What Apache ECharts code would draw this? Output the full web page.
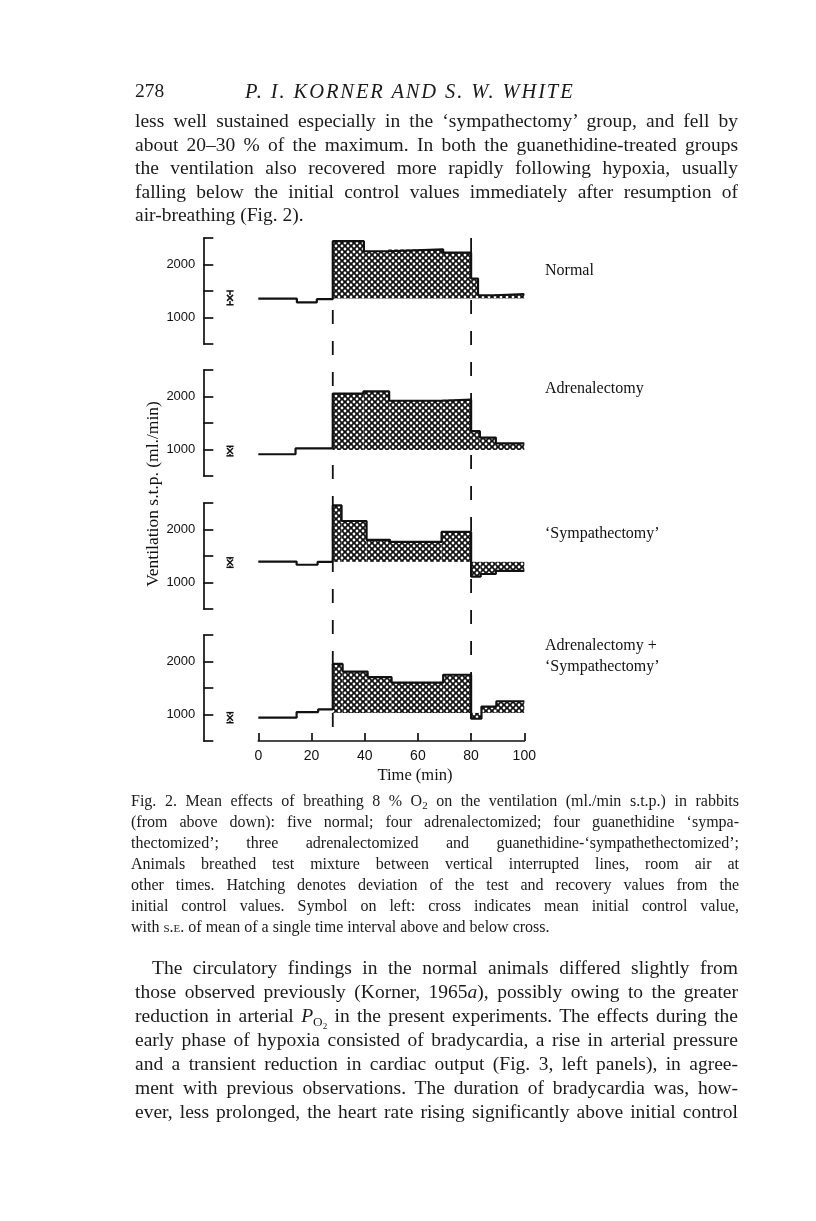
<!DOCTYPE html>
<html><head><meta charset="utf-8">
<script src="https://cdn.jsdelivr.net/npm/echarts@6/dist/echarts.min.js"></script>
<style>
html,body{margin:0;padding:0;background:#fff;}
#page{position:relative;width:816px;height:1221px;overflow:hidden;background:#fff;}
#chart{position:absolute;left:0;top:0;width:816px;height:1221px;}
.blk{position:absolute;font-family:"Liberation Serif","Times New Roman",serif;color:#1a1a1a;}
.blk div{white-space:normal;overflow:visible;}
.j{text-align:justify;text-align-last:justify;}
sub{font-size:0.68em;vertical-align:-0.3em;line-height:0;}
.sc{font-variant:small-caps;}
</style></head>
<body><div id="page">
<div id="chart"></div>

<div class="blk" style="left:135px;top:79px;width:603px;font-size:19.5px;line-height:24px;">
  <div style="position:relative;height:24px;"><span style="position:absolute;left:0;">278</span><span style="position:absolute;left:110px;font-style:italic;font-size:20.5px;letter-spacing:1.9px;">P. I. KORNER AND S. W. WHITE</span></div>
</div>

<div class="blk" style="left:135px;top:109px;width:603px;font-size:19.5px;line-height:23.5px;">
  <div class="j">less well sustained especially in the ‘sympathectomy’ group, and fell by</div>
  <div class="j">about 20–30 % of the maximum. In both the guanethidine-treated groups</div>
  <div class="j">the ventilation also recovered more rapidly following hypoxia, usually</div>
  <div class="j">falling below the initial control values immediately after resumption of</div>
  <div>air-breathing (Fig. 2).</div>
</div>

<div class="blk" style="left:131px;top:790px;width:608px;font-size:16px;line-height:21px;">
  <div class="j">Fig. 2. Mean effects of breathing 8 % O<sub>2</sub> on the ventilation (ml./min s.t.p.) in rabbits</div>
  <div class="j">(from above down): five normal; four adrenalectomized; four guanethidine ‘sympa-</div>
  <div class="j">thectomized’; three adrenalectomized and guanethidine-‘sympathethectomized’;</div>
  <div class="j">Animals breathed test mixture between vertical interrupted lines, room air at</div>
  <div class="j">other times. Hatching denotes deviation of the test and recovery values from the</div>
  <div class="j">initial control values. Symbol on left: cross indicates mean initial control value,</div>
  <div>with <span class="sc">s.e.</span> of mean of a single time interval above and below cross.</div>
</div>

<div class="blk" style="left:135px;top:956px;width:603px;font-size:19.5px;line-height:24px;">
  <div class="j" style="text-indent:17px;">The circulatory findings in the normal animals differed slightly from</div>
  <div class="j">those observed previously (Korner, 1965<i>a</i>), possibly owing to the greater</div>
  <div class="j">reduction in arterial <i>P</i><sub>O<sub>2</sub></sub> in the present experiments. The effects during the</div>
  <div class="j">early phase of hypoxia consisted of bradycardia, a rise in arterial pressure</div>
  <div class="j">and a transient reduction in cardiac output (Fig. 3, left panels), in agree-</div>
  <div class="j">ment with previous observations. The duration of bradycardia was, how-</div>
  <div class="j">ever, less prolonged, the heart rate rising significantly above initial control</div>
</div>
</div>

<script>
// ---- data ----
const timeTicks = [0, 20, 40, 60, 80, 100];
const hypoxiaPeriod = [28, 80];           // test mixture between these times (min)

const panelNames = ['Normal', 'Adrenalectomy', '‘Sympathectomy’', 'Adrenalectomy +\n‘Sympathectomy’'];

// step boundaries (min) and the value held within each interval (ml./min)
const normalT = [0, 14.5, 22, 28, 39.7, 48.8, 69.5, 80, 82.6, 89, 100];
const normalV = [1355, 1285, 1345, 2440, 2250, 2285, 2225, 1735, 1420, 1440];

const adrenalT = [0, 14, 28, 39.5, 49.2, 69, 80, 83.3, 89.3, 100];
const adrenalV = [910, 1020, 2055, 2095, 1920, 1940, 1345, 1225, 1115];

const sympT = [0, 14.4, 22.3, 28, 31.3, 40.7, 49.5, 68.9, 80, 83.6, 89.3, 100];
const sympV = [1395, 1335, 1390, 2455, 2160, 1805, 1765, 1955, 1110, 1160, 1220];

const adrSympT = [0, 14.4, 22.5, 28, 31.7, 41.1, 50.1, 69.5, 80, 83.9, 89.5, 100];
const adrSympV = [940, 1045, 1095, 1955, 1810, 1705, 1600, 1750, 920, 1150, 1250];

// initial control level used as the hatching base
const controlBase = [1360, 990, 1390, 1030];
// cross symbol: mean initial control value and s.e.
const crossMean = [1370, 970, 1376, 940];
const crossSE = [130, 90, 90, 95];

const yTicks = [500, 1000, 1500, 2000, 2500];
const yLabelled = [1000, 2000];

// ---- layout / style ----
const panelsT = [normalT, adrenalT, sympT, adrSympT];
const panelsV = [normalV, adrenalV, sympV, adrSympV];
const gridTops = [238, 370, 503, 635];
const gridLeft = 258.3, gridWidth = 266, gridHeight = 106;
const INK = '#111';
const SERIF = '"Liberation Serif","Times New Roman",serif';
const SANS = '"Liberation Sans",Arial,sans-serif';

function makeHatch() {
  const s = 6, c = document.createElement('canvas');
  c.width = s; c.height = s;
  const g = c.getContext('2d');
  g.fillStyle = '#111'; g.fillRect(0, 0, s, s);
  g.fillStyle = '#fff';
  const r = 1.4;
  [[0,0],[s,0],[0,s],[s,s],[s/2,s/2]].forEach(p => { g.beginPath(); g.arc(p[0], p[1], r, 0, Math.PI*2); g.fill(); });
  return {image: c, repeat: 'repeat'};
}
const hatch = makeHatch();

const grids = [], xAxes = [], yAxes = [], series = [];
for (let i = 0; i < 4; i++) {
  grids.push({left: gridLeft, top: gridTops[i], width: gridWidth, height: gridHeight});
  const isBottom = i === 3;
  xAxes.push({
    gridIndex: i, type: 'value', min: timeTicks[0], max: timeTicks[timeTicks.length-1], interval: 20,
    show: isBottom,
    axisLine: {show: true, onZero: false, lineStyle: {color: INK, width: 1.7}},
    axisTick: {show: true, inside: true, length: 8, lineStyle: {color: INK, width: 1.7}},
    axisLabel: {show: true, color: INK, fontFamily: SANS, fontSize: 14, margin: 8},
    splitLine: {show: false}
  });
  yAxes.push({
    gridIndex: i, type: 'value', min: yTicks[0], max: yTicks[yTicks.length-1], interval: 500,
    position: 'left', offset: 55,
    axisLine: {show: true, onZero: false, lineStyle: {color: INK, width: 1.7}},
    axisTick: {show: true, inside: true, length: 10, lineStyle: {color: INK, width: 1.7}},
    axisLabel: {color: INK, fontFamily: SANS, fontSize: 13, margin: 8,
      formatter: v => yLabelled.indexOf(v) >= 0 ? String(v) : ''},
    splitLine: {show: false}
  });

  const T = panelsT[i], V = panelsV[i];
  // step outline
  const pts = [];
  for (let k = 0; k < V.length; k++) { pts.push([T[k], V[k]]); pts.push([T[k+1], V[k]]); }
  series.push({
    type: 'line', xAxisIndex: i, yAxisIndex: i, data: pts, symbol: 'none', z: 5,
    lineStyle: {color: INK, width: 2.2}, silent: true, animation: false
  });
  // hatched deviation from control
  const segs = [];
  for (let k = 0; k < V.length; k++) if (T[k] >= hypoxiaPeriod[0]) segs.push([T[k], T[k+1], V[k]]);
  const base = controlBase[i];
  series.push({
    type: 'custom', xAxisIndex: i, yAxisIndex: i, data: segs, z: 3, animation: false, silent: true,
    renderItem: (params, api) => {
      const p0 = api.coord([api.value(0), base]);
      const p1 = api.coord([api.value(1), api.value(2)]);
      return {type: 'rect', shape: {x: p0[0], y: Math.min(p0[1], p1[1]), width: p1[0] - p0[0], height: Math.abs(p1[1] - p0[1])},
              style: {fill: hatch}};
    }
  });
  // cross symbol with s.e.
  series.push({
    type: 'custom', xAxisIndex: i, yAxisIndex: i, data: [[crossMean[i], crossSE[i]]], z: 5, animation: false, silent: true,
    renderItem: (params, api) => {
      const m = api.value(0), se = api.value(1);
      const c = api.coord([0, m]);
      const top = api.coord([0, m + se])[1], bot = api.coord([0, m - se])[1];
      const x = c[0] - 28.3, y = c[1], w = 3.6, a = 3;
      const st = {stroke: INK, lineWidth: 1.5};
      return {type: 'group', children: [
        {type: 'line', shape: {x1: x - w, y1: top, x2: x + w, y2: top}, style: st},
        {type: 'line', shape: {x1: x - w, y1: bot, x2: x + w, y2: bot}, style: st},
        {type: 'line', shape: {x1: x, y1: top, x2: x, y2: y - a}, style: st},
        {type: 'line', shape: {x1: x, y1: y + a, x2: x, y2: bot}, style: st},
        {type: 'line', shape: {x1: x - a, y1: y - a, x2: x + a, y2: y + a}, style: st},
        {type: 'line', shape: {x1: x - a, y1: y + a, x2: x + a, y2: y - a}, style: st}
      ]};
    }
  });
}
// interrupted vertical lines marking the test period (drawn in bottom panel's coordinates)
series.push({
  type: 'custom', xAxisIndex: 3, yAxisIndex: 3, data: hypoxiaPeriod.map(t => [t]), z: 1, animation: false, silent: true,
  renderItem: (params, api) => {
    const x = api.coord([api.value(0), 500])[0];
    const yTop = params.dataIndex === 0 ? 310 : 238;
    return {type: 'line', shape: {x1: x, y1: yTop, x2: x, y2: 735},
            style: {stroke: INK, lineWidth: 1.8, lineDash: [14, 17]}};
  }
});

const labelY = [270, 388, 533, 656];
const graphic = [];
panelNames.forEach((n, i) => {
  graphic.push({type: 'text', left: 545, top: labelY[i] - (n.indexOf('\n') >= 0 ? 21 : 10), silent: true,
    style: {text: n, fill: INK, font: '16px ' + SERIF, lineHeight: 21}});
});
graphic.push({type: 'text', x: 153, y: 494, rotation: Math.PI / 2, silent: true,
  style: {text: 'Ventilation s.t.p. (ml./min)', fill: INK, font: '17.5px ' + SERIF, align: 'center', verticalAlign: 'middle'}});
graphic.push({type: 'text', x: 415, y: 776, silent: true,
  style: {text: 'Time (min)', fill: INK, font: '16.5px ' + SERIF, align: 'center', verticalAlign: 'middle'}});

const chart = echarts.init(document.getElementById('chart'), null, {renderer: 'canvas'});
chart.setOption({
  backgroundColor: 'transparent', animation: false,
  grid: grids, xAxis: xAxes, yAxis: yAxes, series: series, graphic: graphic
});
</script>
</body></html>
